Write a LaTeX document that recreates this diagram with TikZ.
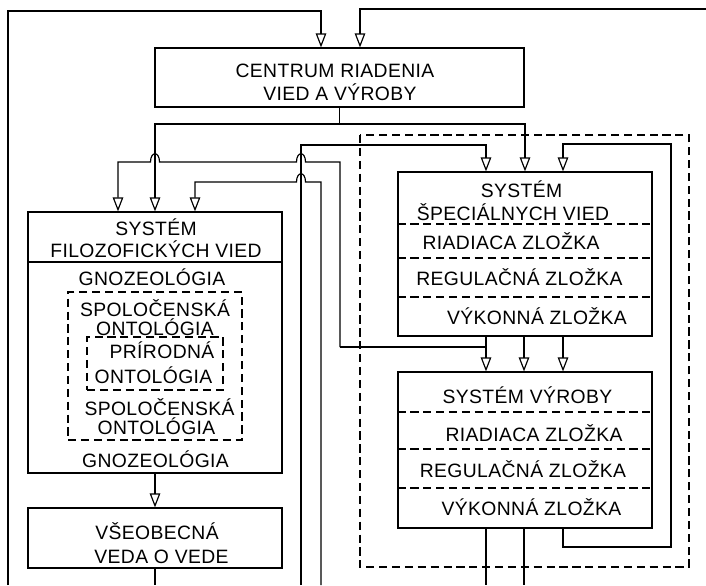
\documentclass[tikz,border=0pt]{standalone}
\usepackage{fontspec}
\setmainfont{Liberation Sans}[LetterSpace=2]
\usepackage{tikz}
\usetikzlibrary{positioning, calc, arrows.meta}

\newlength\pxu
\setlength\pxu{0.03cm}

\tikzset{
  box/.style={draw, line width=1pt, inner sep=0pt},
  dbox/.style={draw, line width=0.9pt, dash pattern=on 7pt off 4pt, inner sep=0pt},
  lbl/.style={font=\fontsize{16.5}{19.5}\selectfont, anchor=base, inner sep=0pt},
  sep/.style={line width=0.9pt, dash pattern=on 7pt off 4pt},
  wire/.style={line width=1pt},
  arr/.style={line width=1pt, -{Triangle[open, length=12pt, width=9pt]}},
  hop/.style={insert path={-- ($(#1)+(4.5,0)$) .. controls +(0,-11) and +(0,-11) .. ($(#1)+(-4.5,0)$)}},
}

\begin{document}
\begin{tikzpicture}[x=0.03cm, y=-0.03cm]
        \useasboundingbox (0,0) rectangle (706,585);

        \node[box, minimum width=369\pxu, minimum height=59\pxu] (centrum) at (339.5,77.5) {};
        \node[lbl] (ctxt1) at (335,77) {CENTRUM RIADENIA};
        \node[lbl] (ctxt2) at (340,100.5) {VIED A VÝROBY};

        % filozoficke vedy
        \node[box, minimum width=254\pxu, minimum height=261\pxu] (filo) at (155,342.5) {};
        \node[lbl] (ftxt1) at (156,235.5) {SYSTÉM};
        \node[lbl] (ftxt2) at (156,257) {FILOZOFICKÝCH VIED};
        \draw[wire] (filo.west |- 0,262) -- (filo.east |- 0,262);
        \node[lbl] (gno1) at (152,285) {GNOZEOLÓGIA};
        \node[dbox, minimum width=174\pxu, minimum height=148\pxu] (spol) at (155,366) {};
        \node[lbl] (spol1a) at (155,316) {SPOLOČENSKÁ};
        \node[lbl] (spol1b) at (155,335) {ONTOLÓGIA};
        \node[dbox, minimum width=136\pxu, minimum height=53\pxu] (prir) at (155,363.5) {};
        \node[lbl] (prir1) at (162,358.5) {PRÍRODNÁ};
        \node[lbl] (prir2) at (153.5,383) {ONTOLÓGIA};
        \node[lbl] (spol2a) at (159.5,415.5) {SPOLOČENSKÁ};
        \node[lbl] (spol2b) at (156.5,434) {ONTOLÓGIA};
        \node[lbl] (gno2) at (155.5,467.5) {GNOZEOLÓGIA};

        \node[box, minimum width=254\pxu, minimum height=60\pxu] (vseo) at (155,538) {};
        \node[lbl] (vtxt1) at (157,539.5) {VŠEOBECNÁ};
        \node[lbl] (vtxt2) at (161.5,563) {VEDA O VEDE};

        % specialne vedy a vyroba
        \draw[sep] (360,135) rectangle (689,567);  %frame
        \node[box, minimum width=254\pxu, minimum height=164\pxu] (spec) at (525,254) {};
        \node[lbl] (stxt1) at (521.5,197) {SYSTÉM};
        \node[lbl] (stxt2) at (513,220.5) {ŠPECIÁLNYCH VIED};
        \foreach \y in {224,258,297}
          \draw[sep] (spec.west |- 0,\y) -- (spec.east |- 0,\y);
        \node[lbl] (spec1) at (511,249) {RIADIACA ZLOŽKA};
        \node[lbl] (spec2) at (519.5,285) {REGULAČNÁ ZLOŽKA};
        \node[lbl] (spec3) at (537,324) {VÝKONNÁ ZLOŽKA};

        \node[box, minimum width=254\pxu, minimum height=156\pxu] (vyr) at (525,450) {};
        \node[lbl] (vyrhead) at (527.5,403) {SYSTÉM VÝROBY};
        \foreach \y in {412,449,488}
          \draw[sep] (vyr.west |- 0,\y) -- (vyr.east |- 0,\y);
        \node[lbl] (vyr1) at (534,441) {RIADIACA ZLOŽKA};
        \node[lbl] (vyr2) at (523,477) {REGULAČNÁ ZLOŽKA};
        \node[lbl] (vyr3) at (531.5,515) {VÝKONNÁ ZLOŽKA};

        \coordinate (bot) at (0,585);
        \coordinate (inL) at (8,585);
        \coordinate (cL) at (321,11);
        \coordinate (inR) at (706,9);
        \coordinate (cR) at (360,9);
        \coordinate (split) at (339.5,124);
        \coordinate (inA) at (301,585);
        \coordinate (inC) at (321,585);
        \coordinate (colA) at (486,0);
        \coordinate (colB) at (524,0);
        \coordinate (colC) at (563,0);

        % into centrum
        \draw[arr] (inL) |- (cL) -- (cL |- centrum.north);
        \draw[arr] (inR) -| (cR |- centrum.north);

        % out of centrum
        \draw[wire] (centrum.south) -- (split);
        \draw[arr] (split) -| (filo.north);
        \draw[arr] (split) -| (spec.north);

        % from below
        \draw[arr] (inA) |- (colA |- 0,145) -- (spec.north -| colA);
        \coordinate (kB) at (340,347);
        \coordinate (tB) at (340,162);
        \coordinate (hB1) at (301,162);
        \coordinate (hB2) at (155,162);
        \coordinate (fB) at (118,162);
        \draw[arr] (kB) -- (tB) [hop=hB1] [hop=hB2] -- (fB) -- (filo.north -| fB);
        \draw[wire] (kB) -- (kB -| colA);
        \coordinate (tC) at (321,182);
        \coordinate (hC) at (301,182);
        \coordinate (fC) at (195,182);
        \draw[arr] (inC) -- (tC) [hop=hC] -- (fC) -- (filo.north -| fC);

        % spec -> vyr
        \foreach \c in {colA,colB,colC}
          \draw[arr] (spec.south -| \c) -- (vyr.north -| \c);
        \coordinate (fb1) at (671,547);
        \coordinate (fb2) at (671,144);
        \draw[arr] (vyr.south -| colC) |- (fb1) -- (fb2) -| (spec.north -| colC);

        % outputs
        \draw[wire] (vyr.south -| colA) -- (colA |- bot);
        \draw[wire] (vyr.south -| colB) -- (colB |- bot);
        \draw[arr] (filo.south) -- (vseo.north);
        \draw[wire] (vseo.south) -- (vseo.south |- bot);
      \end{tikzpicture}
\end{document}
